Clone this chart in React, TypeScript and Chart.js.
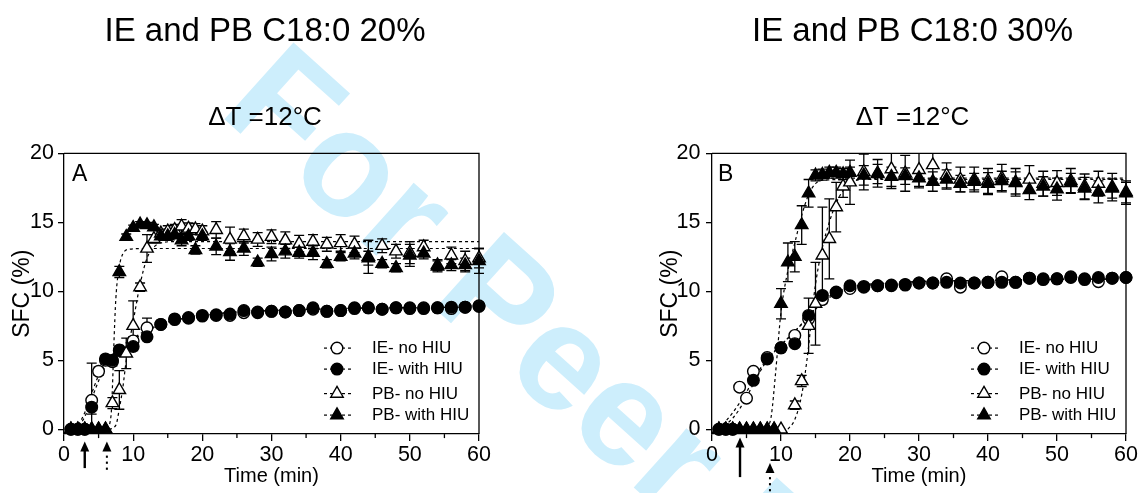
import React, { useEffect, useRef } from 'react';
import { Chart, registerables } from 'chart.js';
import { drawPoint } from 'chart.js/helpers';

Chart.register(...registerables);

const FONT = '"Liberation Sans", Arial, Helvetica, sans-serif';

// ---------- shared ticks ----------
const xMajorTicks = [0, 10, 20, 30, 40, 50, 60];
const xMinorTicks = [5, 15, 25, 35, 45, 55];
const yTicks = [0, 5, 10, 15, 20];

const legendLabels = ['IE- no HIU', 'IE- with HIU', 'PB- no HIU', 'PB- with HIU'];

// ---------- Panel A : C18:0 20% ----------
const tA_ieNo = [1, 2, 3, 4, 5, 6, 7, 8, 10, 12, 14, 16, 18, 20, 22, 24, 26, 28, 30, 32, 34, 36, 38, 40, 42, 44, 46, 48, 50, 52, 54, 56, 58, 60];
const vA_ieNo = [0, 0, 0, 2.1, 4.2, 5.0, 4.9, 5.7, 6.4, 7.35, 7.6, 7.95, 8.05, 8.2, 8.25, 8.25, 8.45, 8.45, 8.55, 8.5, 8.6, 8.7, 8.55, 8.6, 8.75, 8.8, 8.7, 8.8, 8.75, 8.8, 8.8, 8.75, 8.85, 8.95];
const eA_ieNo = [0, 0, 0, 2.7, 0.3, 0.3, 0.3, 0.3, 0.3, 0.7, 0.2, 0.2, 0.2, 0.2, 0.2, 0.2, 0.2, 0.2, 0.2, 0.2, 0.2, 0.2, 0.2, 0.2, 0.2, 0.2, 0.2, 0.2, 0.2, 0.2, 0.2, 0.2, 0.2, 0.2];

const tA_ieHiu = [1, 2, 3, 4, 6, 7, 8, 10, 12, 14, 16, 18, 20, 22, 24, 26, 28, 30, 32, 34, 36, 38, 40, 42, 44, 46, 48, 50, 52, 54, 56, 58, 60];
const vA_ieHiu = [0, 0, 0, 1.6, 5.1, 5.0, 5.75, 6.0, 6.7, 7.6, 8.0, 8.1, 8.25, 8.3, 8.35, 8.6, 8.5, 8.55, 8.5, 8.6, 8.8, 8.55, 8.6, 8.8, 8.8, 8.7, 8.8, 8.8, 8.75, 8.8, 8.85, 8.85, 8.9];
const eA_ieHiu = [0, 0, 0, 0.5, 0.2, 0.2, 0.2, 0.2, 0.2, 0.2, 0.2, 0.2, 0.2, 0.2, 0.2, 0.2, 0.2, 0.2, 0.2, 0.2, 0.2, 0.2, 0.2, 0.2, 0.2, 0.2, 0.2, 0.2, 0.2, 0.2, 0.2, 0.2, 0.2];

const tA_pbNo = [1, 2, 3, 4, 5, 6, 7, 8, 9, 10, 11, 12, 13, 14, 15, 16, 17, 18, 19, 20, 22, 24, 26, 28, 30, 32, 34, 36, 38, 40, 42, 44, 46, 48, 50, 52, 54, 56, 58, 60];
const vA_pbNo = [0, 0, 0, 0, 0, 0, 1.9, 2.85, 5.5, 7.5, 10.3, 13.1, 13.8, 14.2, 14.35, 14.45, 14.7, 14.55, 14.5, 14.35, 14.45, 13.75, 14.0, 13.75, 13.95, 13.7, 13.45, 13.6, 13.4, 13.5, 13.4, 12.5, 13.3, 12.9, 12.8, 13.2, 11.9, 12.6, 12.2, 12.4];
const eA_pbNo = [0, 0, 0, 0, 0, 0, 0.4, 1.4, 1.1, 1.8, 0.3, 1.0, 0.3, 0.3, 0.4, 0.4, 0.5, 0.4, 0.4, 0.4, 0.6, 0.9, 0.5, 0.5, 0.5, 0.6, 0.6, 0.5, 0.5, 0.6, 0.6, 1.2, 0.5, 0.5, 0.8, 0.5, 0.4, 0.6, 0.7, 0.7];

const tA_pbHiu = [1, 2, 3, 4, 5, 6, 8, 9, 10, 11, 12, 13, 14, 15, 16, 17, 18, 19, 20, 22, 24, 26, 28, 30, 32, 34, 36, 38, 40, 42, 44, 46, 48, 50, 52, 54, 56, 58, 60];
const vA_pbHiu = [0, 0, 0, 0, 0, 0, 11.4, 13.95, 14.6, 14.85, 14.8, 14.65, 14.0, 14.0, 14.1, 13.7, 14.0, 13.0, 14.0, 13.25, 12.85, 13.1, 12.1, 12.7, 12.9, 12.8, 12.8, 12.0, 12.5, 12.75, 12.4, 12.0, 11.7, 12.6, 12.75, 11.8, 11.9, 11.9, 12.2];
const eA_pbHiu = [0, 0, 0, 0, 0, 0, 0.4, 0.2, 0.2, 0.2, 0.2, 0.2, 0.3, 0.3, 0.3, 0.4, 0.3, 0.3, 0.3, 0.6, 0.6, 0.5, 0.3, 0.5, 0.5, 0.4, 0.5, 0.3, 0.3, 0.4, 0.5, 0.3, 0.3, 0.8, 0.4, 0.4, 0.4, 0.5, 0.9];

// fitted (dashed) curves
const fA_ieNo_t = [0.5, 2, 3, 4, 5, 6, 7, 8, 10, 12, 14, 16, 20, 25, 30, 40, 60];
const fA_ieNo_v = [0, 0.3, 1.2, 2.6, 3.9, 4.8, 5.4, 5.9, 6.6, 7.2, 7.6, 7.9, 8.25, 8.5, 8.6, 8.75, 8.85];
const fA_ieHiu_t = [0.5, 2, 3, 4, 5, 6, 7, 8, 10, 12, 14, 16, 20, 25, 30, 40, 60];
const fA_ieHiu_v = [0, 0.2, 0.9, 2.2, 3.5, 4.6, 5.3, 5.8, 6.5, 7.1, 7.6, 7.9, 8.25, 8.5, 8.6, 8.75, 8.85];
const fA_pbNo_t = [6.5, 7.5, 8, 8.5, 9, 10, 11, 12, 13, 14, 16, 20, 60];
const fA_pbNo_v = [0, 0.3, 1.5, 3.0, 5.0, 7.8, 10.5, 12.4, 13.2, 13.5, 13.6, 13.6, 13.6];
const fA_pbHiu_t = [6.2, 6.8, 7.0, 7.2, 7.5, 8, 8.5, 9.5, 12, 60];
const fA_pbHiu_v = [0, 1, 3, 6, 9.5, 11.8, 12.7, 13.05, 13.1, 13.1];

const arrowsA_solid = [3];
const arrowsA_dotted = [6.2];

// ---------- Panel B : C18:0 30% ----------
const tB_ieNo = [1, 2, 3, 4, 5, 6, 8, 10, 12, 14, 16, 18, 20, 22, 24, 26, 28, 30, 32, 34, 36, 38, 40, 42, 44, 46, 48, 50, 52, 54, 56, 58, 60];
const vB_ieNo = [0, 0, 0, 3.05, 2.25, 4.2, 5.2, 5.9, 6.8, 8.0, 9.4, 9.9, 10.2, 10.3, 10.4, 10.4, 10.45, 10.6, 10.6, 10.9, 10.3, 10.6, 10.65, 11.05, 10.65, 10.95, 10.85, 10.9, 11.05, 10.85, 10.7, 10.95, 11.0];
const eB_ieNo = [0, 0, 0, 0.2, 0.2, 0.2, 0.2, 0.2, 0.2, 0.2, 0.2, 0.2, 0.2, 0.2, 0.2, 0.2, 0.2, 0.2, 0.2, 0.2, 0.2, 0.2, 0.2, 0.2, 0.2, 0.2, 0.2, 0.2, 0.2, 0.2, 0.2, 0.2, 0.2];

const tB_ieHiu = [1, 2, 3, 6, 8, 10, 12, 14, 16, 18, 20, 22, 24, 26, 28, 30, 32, 34, 36, 38, 40, 42, 44, 46, 48, 50, 52, 54, 56, 58, 60];
const vB_ieHiu = [0, 0, 0, 3.55, 5.1, 5.9, 6.2, 8.25, 9.7, 9.95, 10.4, 10.35, 10.4, 10.45, 10.5, 10.6, 10.6, 10.65, 10.6, 10.6, 10.65, 10.65, 10.65, 10.95, 10.9, 10.9, 11.0, 10.9, 11.0, 10.95, 11.0];
const eB_ieHiu = [0, 0, 0, 0.2, 0.2, 0.2, 0.2, 0.2, 0.2, 0.2, 0.2, 0.2, 0.2, 0.2, 0.2, 0.2, 0.2, 0.2, 0.2, 0.2, 0.2, 0.2, 0.2, 0.2, 0.2, 0.2, 0.2, 0.2, 0.2, 0.2, 0.2];

const tB_pbNo = [1, 2, 3, 4, 5, 6, 7, 8, 9, 10, 12, 13, 14, 15, 16, 17, 18, 19, 20, 22, 24, 26, 28, 30, 32, 34, 36, 38, 40, 42, 44, 46, 48, 50, 52, 54, 56, 58, 60];
const vB_pbNo = [0, 0, 0, 0, 0, 0, 0, 0, 0, 0, 1.75, 3.5, 7.5, 9.1, 12.6, 13.8, 16.1, 17.6, 17.9, 18.65, 18.55, 18.85, 18.55, 18.8, 19.15, 18.4, 18.1, 18.1, 18.0, 18.2, 17.9, 18.1, 17.8, 17.85, 18.0, 17.6, 17.8, 17.55, 17.2];
const eB_pbNo = [0, 0, 0, 0, 0, 0, 0, 0, 0, 0, 0.3, 0.4, 2.0, 3.0, 3.5, 2.9, 1.8, 0.8, 1.6, 1.3, 1.0, 1.4, 1.3, 1.3, 1.0, 0.9, 0.9, 0.9, 0.9, 1.0, 1.0, 1.0, 0.9, 0.9, 0.9, 0.9, 0.9, 1.0, 0.8];

const tB_pbHiu = [1, 2, 3, 4, 5, 6, 7, 8, 9, 10, 11, 12, 13, 14, 15, 16, 17, 18, 19, 20, 22, 24, 26, 28, 30, 32, 34, 36, 38, 40, 42, 44, 46, 48, 50, 52, 54, 56, 58, 60];
const vB_pbHiu = [0, 0, 0, 0, 0, 0, 0, 0, 0, 9.1, 12.1, 12.5, 14.8, 17.1, 18.4, 18.45, 18.6, 18.6, 18.5, 18.6, 18.4, 18.5, 18.3, 18.35, 18.2, 17.95, 18.1, 17.8, 17.95, 17.8, 18.0, 17.85, 17.35, 17.6, 17.4, 17.85, 17.45, 17.2, 17.45, 17.1];
const eB_pbHiu = [0, 0, 0, 0, 0, 0, 0, 0, 0, 1.1, 1.4, 1.1, 1.4, 1.0, 0.4, 0.4, 0.4, 0.4, 0.4, 0.4, 0.7, 0.7, 0.7, 0.6, 0.6, 0.7, 0.7, 0.6, 0.6, 0.8, 0.7, 0.8, 0.7, 0.7, 0.8, 0.7, 0.8, 0.8, 0.7, 0.8];

const fB_ieNo_t = [1, 3, 5, 6, 8, 10, 12, 14, 16, 18, 20, 25, 30, 40, 60];
const fB_ieNo_v = [0, 0.8, 2.3, 3.3, 5.0, 6.1, 7.1, 8.1, 9.2, 9.8, 10.2, 10.55, 10.7, 10.8, 10.9];
const fB_ieHiu_t = [1, 3, 5, 6, 8, 10, 12, 14, 16, 18, 20, 25, 30, 40, 60];
const fB_ieHiu_v = [0, 1.2, 2.7, 3.6, 5.1, 6.1, 7.1, 8.2, 9.3, 9.9, 10.3, 10.6, 10.7, 10.8, 10.9];
const fB_pbNo_t = [11, 12, 13, 14, 14.5, 15, 15.5, 16, 17, 18, 19, 20, 22, 30, 60];
const fB_pbNo_v = [0, 0.7, 2.5, 6.0, 8.5, 10.5, 12, 13.2, 15.0, 16.4, 17.3, 17.8, 18.15, 18.2, 18.2];
const fB_pbHiu_t = [8, 8.6, 9.2, 10, 11, 12, 13, 14, 15, 16, 20, 60];
const fB_pbHiu_v = [0, 1, 4, 8.5, 11.5, 13.5, 15.5, 17, 17.8, 18.05, 18.1, 18.1];

const arrowsB_solid = [4.06];
const arrowsB_dotted = [8.4];

// ---------- styles ----------
const STYLES: any = {
  oc: { pointStyle: 'circle', radius: 5.8, fill: '#ffffff' },
  fc: { pointStyle: 'circle', radius: 5.8, fill: '#000000' },
  ot: { pointStyle: 'triangle', radius: 7.2, fill: '#ffffff' },
  ft: { pointStyle: 'triangle', radius: 7.2, fill: '#000000' },
};
const ORDER = ['oc', 'fc', 'ot', 'ft'];
const DRAW_ORDER: any = { oc: 4, fc: 3, ot: 2, ft: 1 };

function pts(t: number[], v: number[]) {
  return t.map((x, i) => ({ x, y: v[i] }));
}

const panels = [
  {
    key: 'A',
    title: 'IE and PB C18:0 20%',
    left: 0,
    width: 530,
    tickPad: 4,
    series: [
      [tA_ieNo, vA_ieNo, eA_ieNo],
      [tA_ieHiu, vA_ieHiu, eA_ieHiu],
      [tA_pbNo, vA_pbNo, eA_pbNo],
      [tA_pbHiu, vA_pbHiu, eA_pbHiu],
    ],
    fits: [
      [fA_ieNo_t, fA_ieNo_v],
      [fA_ieHiu_t, fA_ieHiu_v],
      [fA_pbNo_t, fA_pbNo_v],
      [fA_pbHiu_t, fA_pbHiu_v],
    ],
    arrows: [
      { t: arrowsA_solid, dotted: false, tip: 7.5, end: 34 },
      { t: arrowsA_dotted, dotted: true, tip: 7.5, end: 34 },
    ],
    letterDx: 8,
  },
  {
    key: 'B',
    title: 'IE and PB C18:0 30%',
    left: 648,
    width: 529,
    tickPad: 5.5,
    series: [
      [tB_ieNo, vB_ieNo, eB_ieNo],
      [tB_ieHiu, vB_ieHiu, eB_ieHiu],
      [tB_pbNo, vB_pbNo, eB_pbNo],
      [tB_pbHiu, vB_pbHiu, eB_pbHiu],
    ],
    fits: [
      [fB_ieNo_t, fB_ieNo_v],
      [fB_ieHiu_t, fB_ieHiu_v],
      [fB_pbNo_t, fB_pbNo_v],
      [fB_pbHiu_t, fB_pbHiu_v],
    ],
    arrows: [
      { t: arrowsB_solid, dotted: false, tip: 3.5, end: 43 },
      { t: arrowsB_dotted, dotted: true, tip: 29, end: 62 },
    ],
    letterDx: 6,
  },
];

function makeExtras(panel: any) {
  return {
    id: 'extras' + panel.key,
    beforeDatasetsDraw(chart: any) {
      const { ctx, chartArea: a, scales } = chart;
      const xs = scales.x;
      const ys = scales.y;
      ctx.save();
      // frame top & right
      ctx.strokeStyle = '#000';
      ctx.lineWidth = 1.3;
      ctx.beginPath();
      ctx.moveTo(a.left, a.top);
      ctx.lineTo(a.right, a.top);
      ctx.lineTo(a.right, a.bottom);
      ctx.stroke();
      // error bars
      ctx.beginPath();
      ctx.rect(a.left - 10, a.top, a.right - a.left + 20, a.bottom - a.top);
      ctx.clip();
      ctx.lineWidth = 1.3;
      chart.data.datasets.forEach((ds: any) => {
        if (!ds.errs) return;
        ds.data.forEach((p: any, j: number) => {
          const e = ds.errs[j];
          if (!e) return;
          const x = xs.getPixelForValue(p.x);
          const yt = ys.getPixelForValue(p.y + e);
          const yb = ys.getPixelForValue(p.y - e);
          ctx.beginPath();
          ctx.moveTo(x, yt);
          ctx.lineTo(x, yb);
          ctx.moveTo(x - 5, yt);
          ctx.lineTo(x + 5, yt);
          ctx.moveTo(x - 5, yb);
          ctx.lineTo(x + 5, yb);
          ctx.stroke();
        });
      });
      ctx.restore();
    },
    afterDraw(chart: any) {
      const { ctx, chartArea: a, scales } = chart;
      const xs = scales.x;
      ctx.save();
      ctx.strokeStyle = '#000';
      ctx.fillStyle = '#000';
      // minor x ticks
      ctx.lineWidth = 1.3;
      xMinorTicks.forEach((t) => {
        const x = xs.getPixelForValue(t);
        ctx.beginPath();
        ctx.moveTo(x, a.bottom);
        ctx.lineTo(x, a.bottom + 4);
        ctx.stroke();
      });
      // arrows
      panel.arrows.forEach((ar: any) => {
        ar.t.forEach((t: number) => {
          const x = xs.getPixelForValue(t);
          const tip = a.bottom + ar.tip;
          const base = tip + 10;
          ctx.beginPath();
          ctx.moveTo(x, tip);
          ctx.lineTo(x - 4.5, base);
          ctx.lineTo(x + 4.5, base);
          ctx.closePath();
          ctx.fill();
          if (ar.dotted) {
            for (let y = base + 4; y < a.bottom + ar.end; y += 6) {
              ctx.fillRect(x - 1, y, 2, 2.2);
            }
          } else {
            ctx.fillRect(x - 1.2, base - 1, 2.4, a.bottom + ar.end - base + 1);
          }
        });
      });
      // panel letter
      ctx.font = '23px ' + FONT;
      ctx.textBaseline = 'middle';
      ctx.textAlign = 'left';
      ctx.fillText(panel.key, a.left + panel.letterDx, a.top + 21.5);
      // legend
      const rows = [-86, -65, -40.5, -19];
      const mx = a.right - 142;
      ctx.font = '17px ' + FONT;
      ORDER.forEach((k, i) => {
        const y = a.bottom + rows[i];
        const st = STYLES[k];
        ctx.setLineDash([3, 3]);
        ctx.lineWidth = 1.2;
        ctx.strokeStyle = '#000';
        ctx.beginPath();
        ctx.moveTo(mx - 13, y);
        ctx.lineTo(mx + 16, y);
        ctx.stroke();
        ctx.setLineDash([]);
        ctx.fillStyle = st.fill;
        ctx.strokeStyle = '#000';
        ctx.lineWidth = 1.4;
        drawPoint(ctx, { pointStyle: st.pointStyle, radius: st.radius, rotation: 0, borderWidth: 1.4 }, mx, y);
        ctx.fillStyle = '#000';
        ctx.fillText(legendLabels[i], a.right - 107, y + 0.5);
      });
      ctx.restore();
    },
  };
}

function buildConfig(panel: any) {
  const datasets: any[] = [];
  panel.fits.forEach((f: any, i: number) => {
    datasets.push({
      type: 'line',
      label: 'fit ' + legendLabels[i],
      data: pts(f[0], f[1]),
      borderColor: '#000',
      borderWidth: 1.2,
      borderDash: [3, 3],
      pointRadius: 0,
      cubicInterpolationMode: 'monotone',
      fill: false,
      order: 10,
      clip: false,
    });
  });
  panel.series.forEach((s: any, i: number) => {
    const k = ORDER[i];
    const st = STYLES[k];
    datasets.push({
      type: 'scatter',
      label: legendLabels[i],
      data: pts(s[0], s[1]),
      errs: s[2],
      showLine: false,
      pointStyle: st.pointStyle,
      pointRadius: st.radius,
      pointBackgroundColor: st.fill,
      pointBorderColor: '#000',
      pointBorderWidth: 1.4,
      order: DRAW_ORDER[k],
      clip: false,
    });
  });

  const tickFont = { family: FONT, size: 21.5 };
  return {
    type: 'scatter',
    data: { datasets },
    plugins: [makeExtras(panel)],
    options: {
      animation: false,
      responsive: false,
      events: [],
      layout: { padding: { left: 0, right: 0, top: 0, bottom: 0 } },
      plugins: {
        legend: { display: false },
        tooltip: { enabled: false },
        title: {
          display: true,
          text: panel.title,
          color: '#000',
          font: { family: FONT, size: 33, weight: 'normal', lineHeight: 1.2 },
          padding: { top: 12, bottom: 50.8 },
        },
        subtitle: {
          display: true,
          text: '\u0394T =12\u00B0C',
          color: '#000',
          font: { family: FONT, size: 26, weight: 'normal', lineHeight: 1.2 },
          padding: { top: 0, bottom: 19.7 },
        },
      },
      scales: {
        x: {
          type: 'linear',
          position: 'bottom',
          min: 0,
          max: 60,
          afterBuildTicks: (s: any) => {
            s.ticks = xMajorTicks.map((v) => ({ value: v }));
          },
          afterFit: (s: any) => {
            s.height = 58.9;
            s.paddingLeft = 0;
            s.paddingRight = 0;
          },
          grid: { display: true, drawOnChartArea: false, drawTicks: true, tickLength: 7, color: '#000', lineWidth: 1.3 },
          border: { display: true, color: '#000', width: 1.3 },
          ticks: { color: '#000', font: tickFont, padding: 1, maxRotation: 0, autoSkip: false, callback: (v: any) => String(v) },
          title: { display: true, text: 'Time (min)', color: '#000', font: { family: FONT, size: 20, lineHeight: 1.2 }, padding: { top: 0, bottom: 4.6 } },
        },
        y: {
          type: 'linear',
          position: 'left',
          min: -0.35,
          max: 20,
          afterBuildTicks: (s: any) => {
            s.ticks = yTicks.map((v) => ({ value: v }));
          },
          afterFit: (s: any) => {
            s.width = 64;
            s.paddingTop = 0;
            s.paddingBottom = 0;
          },
          grid: { display: true, drawOnChartArea: false, drawTicks: true, tickLength: 6, color: '#000', lineWidth: 1.3 },
          border: { display: true, color: '#000', width: 1.3 },
          ticks: { color: '#000', font: tickFont, padding: panel.tickPad, autoSkip: false, callback: (v: any) => String(v) },
          title: { display: true, text: 'SFC (%)', color: '#000', font: { family: FONT, size: 23, lineHeight: 1.2 }, padding: { top: 8.4, bottom: 0 } },
        },
        yPad: {
          type: 'linear',
          position: 'right',
          display: true,
          grid: { display: false },
          border: { display: false },
          ticks: { display: false },
          afterFit: (s: any) => {
            s.width = 51;
            s.paddingTop = 0;
            s.paddingBottom = 0;
          },
        },
      },
    },
  };
}

function Panel({ panel }: { panel: any }) {
  const ref = useRef<HTMLCanvasElement>(null);
  useEffect(() => {
    const chart = new Chart(ref.current as HTMLCanvasElement, buildConfig(panel) as any);
    return () => chart.destroy();
  }, [panel]);
  return (
    <canvas
      ref={ref}
      width={panel.width}
      height={493}
      style={{ position: 'absolute', left: panel.left, top: 0, width: panel.width, height: 493, zIndex: 1 }}
    />
  );
}

export default function App() {
  return (
    <div style={{ position: 'absolute', left: 0, top: 0, width: 1141, height: 493, overflow: 'hidden', background: '#fff' }}>
      <div
        style={{
          position: 'absolute',
          left: 302,
          top: 18,
          transformOrigin: '0 0',
          transform: 'rotate(42deg)',
          font: 'bold 150px ' + FONT,
          lineHeight: 1,
          color: '#cdeefc',
          whiteSpace: 'nowrap',
          zIndex: 0,
        }}
      >
        For Peer Review
      </div>
      {panels.map((p) => (
        <Panel key={p.key} panel={p} />
      ))}
    </div>
  );
}
